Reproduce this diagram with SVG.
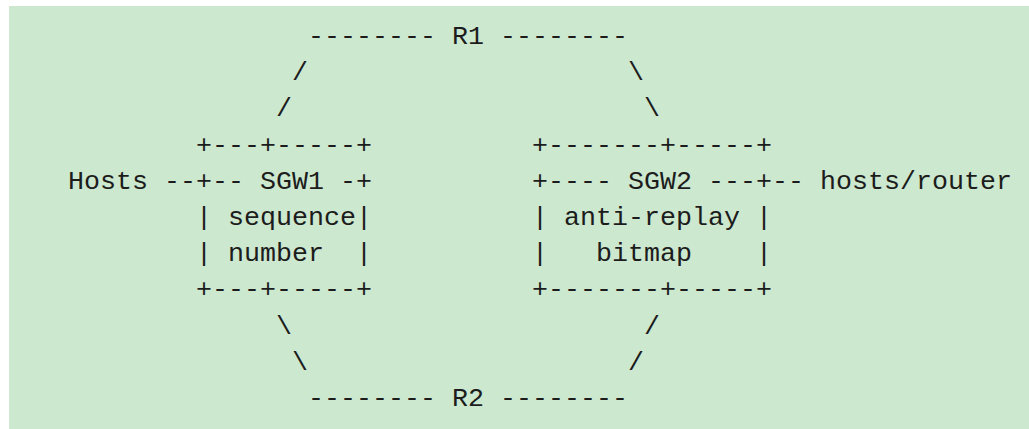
<svg xmlns="http://www.w3.org/2000/svg" width="1029" height="429" viewBox="0 0 1029 429">
<style>
text{font-family:"Liberation Mono","DejaVu Sans Mono",monospace;font-size:26.67px;fill:#1c1c1c;white-space:pre}
</style>
<rect x="0" y="0" width="1029" height="429" fill="#ffffff"/>
<rect x="9" y="6" width="1020" height="423" fill="#CCE8CF"/>
<g id="connectors">
<text x="308" y="44">--------</text>
<text x="500" y="44">--------</text>
<text x="292" y="80.2">/</text>
<text x="628" y="80.2">\</text>
<text x="276" y="116.4">/</text>
<text x="644" y="116.4">\</text>
<text x="164" y="188.8">--</text>
<text x="772" y="188.8">--</text>
<text x="276" y="333.6">\</text>
<text x="644" y="333.6">/</text>
<text x="292" y="369.8">\</text>
<text x="628" y="369.8">/</text>
<text x="308" y="406">--------</text>
<text x="500" y="406">--------</text>
</g>
<g id="R1"><text x="452" y="44">R1</text></g>
<g id="R2"><text x="452" y="406">R2</text></g>
<g id="Hosts"><text x="68" y="188.8">Hosts</text></g>
<g id="hosts-router"><text x="820" y="188.8">hosts/router</text></g>
<g id="SGW1">
<text x="196" y="152.6">+---+-----+</text>
<text x="196" y="188.8">+--</text>
<text x="260" y="188.8">SGW1</text>
<text x="340" y="188.8">-+</text>
<text x="196" y="225">|</text>
<text x="228" y="225">sequence</text>
<text x="356" y="225">|</text>
<text x="196" y="261.2">|</text>
<text x="228" y="261.2">number</text>
<text x="356" y="261.2">|</text>
<text x="196" y="297.4">+---+-----+</text>
</g>
<g id="SGW2">
<text x="532" y="152.6">+-------+-----+</text>
<text x="532" y="188.8">+----</text>
<text x="628" y="188.8">SGW2</text>
<text x="708" y="188.8">---+</text>
<text x="532" y="225">|</text>
<text x="564" y="225">anti-replay</text>
<text x="756" y="225">|</text>
<text x="532" y="261.2">|</text>
<text x="596" y="261.2">bitmap</text>
<text x="756" y="261.2">|</text>
<text x="532" y="297.4">+-------+-----+</text>
</g>
</svg>
